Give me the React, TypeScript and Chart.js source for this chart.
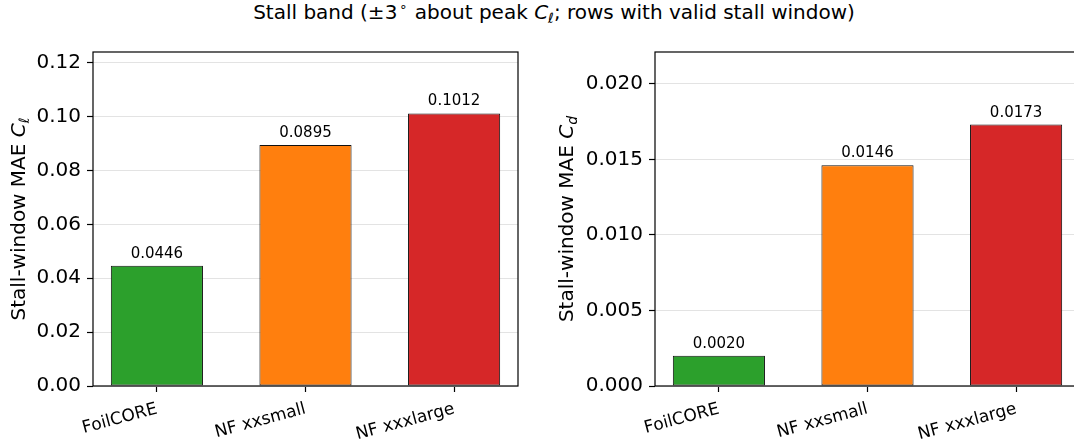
import React, { useEffect, useRef } from "react";
import { Chart, registerables } from "chart.js";

Chart.register(...registerables);

// Models compared in both panels
const categories = ["FoilCORE", "NF xxsmall", "NF xxxlarge"];
const barColors = ["#2ca02c", "#ff7f0e", "#d62728"];

// Stall-window mean absolute errors
const clMae = [0.0446, 0.0895, 0.1012];
const cdMae = [0.002, 0.0146, 0.0173];

// Y tick values for each panel
const clTicks = [0, 0.02, 0.04, 0.06, 0.08, 0.1, 0.12];
const cdTicks = [0, 0.005, 0.01, 0.015, 0.02];

const FONT = "'DejaVu Sans', sans-serif";

type PanelProps = {
  values: number[];
  yTicks: number[];
  tickDecimals: number;
  yMax: number;
  sub: string;
  width: number;
  yAxisWidth: number;
  padRight: number;
  titleOffset: number;
};

// Outline of the plotting area (all four spines)
const framePlugin = {
  id: "frame",
  afterDraw(chart: any) {
    const { ctx, chartArea } = chart;
    const { left, top, right, bottom } = chartArea;
    ctx.save();
    ctx.strokeStyle = "#000";
    ctx.lineWidth = 1.2;
    ctx.strokeRect(left, top, right - left, bottom - top);
    ctx.restore();
  },
};

function Panel(props: PanelProps) {
  const ref = useRef<HTMLCanvasElement | null>(null);

  useEffect(() => {
    const canvas = ref.current;
    if (!canvas) return;
    const { values, yTicks, tickDecimals, yMax, sub, yAxisWidth, padRight, titleOffset } = props;

    // Number printed above each bar
    const valueLabels = {
      id: "valueLabels",
      afterDatasetsDraw(chart: any) {
        const { ctx } = chart;
        const meta = chart.getDatasetMeta(0);
        ctx.save();
        ctx.font = `15px ${FONT}`;
        ctx.fillStyle = "#000";
        ctx.textAlign = "center";
        ctx.textBaseline = "alphabetic";
        meta.data.forEach((bar: any, i: number) => {
          ctx.fillText(values[i].toFixed(4), bar.x, bar.y - 8);
        });
        ctx.restore();
      },
    };

    // Rotated y-axis title with italic C and a subscript
    const yTitle = {
      id: "yTitle",
      afterDraw(chart: any) {
        const { ctx, chartArea } = chart;
        const cx = chartArea.left - titleOffset;
        const cy = (chartArea.top + chartArea.bottom) / 2;
        const parts = [
          { t: "Stall-window MAE ", f: `20px ${FONT}`, dy: 0 },
          { t: "C", f: `italic 20px ${FONT}`, dy: 0 },
          { t: sub, f: `italic 14px ${FONT}`, dy: 4 },
        ];
        ctx.save();
        ctx.translate(cx, cy);
        ctx.rotate(-Math.PI / 2);
        ctx.fillStyle = "#000";
        ctx.textAlign = "left";
        ctx.textBaseline = "alphabetic";
        let total = 0;
        for (const p of parts) {
          ctx.font = p.f;
          total += ctx.measureText(p.t).width;
        }
        let x = -total / 2;
        for (const p of parts) {
          ctx.font = p.f;
          ctx.fillText(p.t, x, p.dy);
          x += ctx.measureText(p.t).width;
        }
        ctx.restore();
      },
    };

    const chart = new Chart(canvas, {
      type: "bar",
      data: {
        datasets: [
          {
            data: values.map((v, i) => ({ x: i, y: v })),
            backgroundColor: barColors,
            borderColor: "#111",
            borderWidth: 1,
            borderSkipped: false,
            barPercentage: 0.62,
            categoryPercentage: 1,
          } as any,
        ],
      },
      options: {
        responsive: false,
        animation: false,
        layout: { padding: { left: 0, right: padRight, top: 52, bottom: 0 } },
        plugins: {
          legend: { display: false },
          tooltip: { enabled: false },
          title: { display: false },
        },
        scales: {
          x: {
            type: "linear",
            min: -0.43,
            max: 2.43,
            offset: false,
            afterBuildTicks: (s: any) => {
              s.ticks = categories.map((_, i) => ({ value: i }));
            },
            afterFit: (s: any) => {
              s.height = 54;
            },
            ticks: {
              callback: (v: any) => categories[Number(v)] ?? "",
              font: { family: FONT, size: 17 },
              color: "#000",
              minRotation: 15,
              maxRotation: 15,
              autoSkip: false,
              padding: 7,
            },
            grid: {
              drawOnChartArea: false,
              drawTicks: true,
              tickLength: 6,
              tickColor: "#000",
              tickWidth: 1.2,
              offset: false,
            },
            border: { display: false },
          } as any,
          y: {
            type: "linear",
            min: 0,
            max: yMax,
            afterBuildTicks: (s: any) => {
              s.ticks = yTicks.map((v) => ({ value: v }));
            },
            afterFit: (s: any) => {
              s.width = yAxisWidth;
            },
            ticks: {
              callback: (v: any) => Number(v).toFixed(tickDecimals),
              font: { family: FONT, size: 20 },
              color: "#000",
              padding: 6,
            },
            grid: {
              color: "#e3e3e3",
              lineWidth: 1,
              tickColor: "#000",
              tickLength: 6,
              tickWidth: 1.2,
            },
            border: { display: false },
          } as any,
        },
      },
      plugins: [framePlugin, valueLabels, yTitle],
    });

    return () => chart.destroy();
  }, []);

  return (
    <canvas
      ref={ref}
      width={props.width}
      height={440}
      style={{ width: props.width, height: 440, display: "block" }}
    />
  );
}

export default function App() {
  return (
    <div
      style={{
        position: "fixed",
        left: 0,
        top: 0,
        width: 1074,
        height: 440,
        overflow: "hidden",
        background: "#fff",
        fontFamily: FONT,
      }}
    >
      <div
        style={{
          position: "absolute",
          left: 0,
          top: 1,
          width: 1108,
          textAlign: "center",
          fontSize: 20,
          lineHeight: "23px",
          whiteSpace: "nowrap",
          color: "#000",
        }}
      >
        Stall band (±3
        <span style={{ fontSize: 13, position: "relative", top: -8, marginLeft: 2, marginRight: 1 }}>∘</span>{" "}
        about peak <i>C</i>
        <i style={{ fontSize: 14, position: "relative", top: 4 }}>ℓ</i>; rows with valid stall window)
      </div>
      <div style={{ position: "absolute", left: 0, top: 0 }}>
        <Panel
          values={clMae}
          yTicks={clTicks}
          tickDecimals={2}
          yMax={0.124}
          sub="ℓ"
          width={537}
          yAxisWidth={93}
          padRight={19}
          titleOffset={68}
        />
      </div>
      <div style={{ position: "absolute", left: 537, top: 0, width: 545 }}>
        <Panel
          values={cdMae}
          yTicks={cdTicks}
          tickDecimals={3}
          yMax={0.0221}
          sub="d"
          width={545}
          yAxisWidth={118}
          padRight={2}
          titleOffset={82}
        />
      </div>
    </div>
  );
}
